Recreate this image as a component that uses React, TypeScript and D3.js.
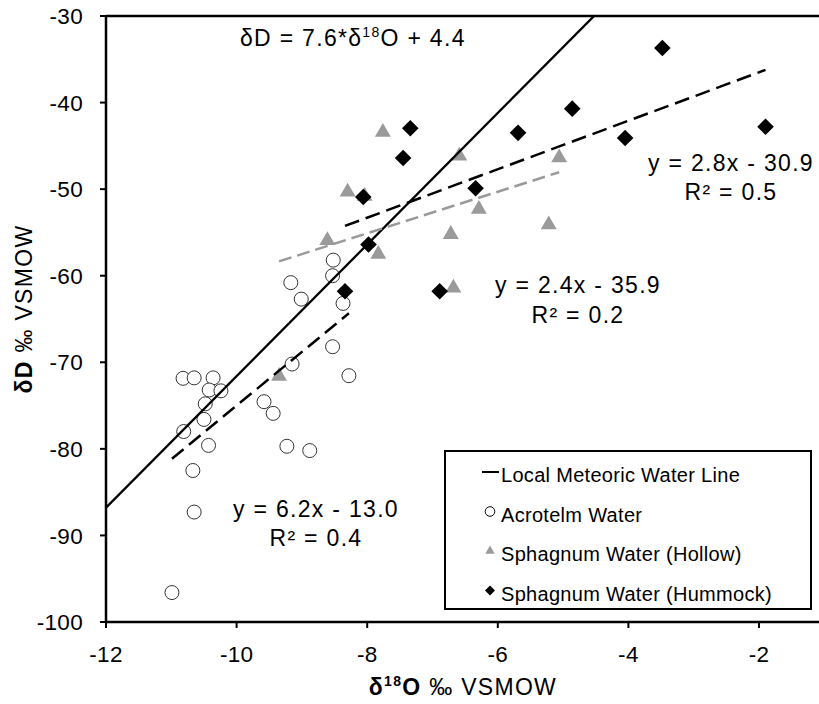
import React from "react";
import * as d3 from "d3";

const acrotelm: [number, number][] = [
  [-10.82, -71.85], [-10.65, -71.8], [-10.36, -71.8], [-10.42, -73.2], [-10.24, -73.3],
  [-10.48, -74.8], [-10.5, -76.6], [-10.81, -78.0], [-10.43, -79.6], [-10.67, -82.5],
  [-10.65, -87.3], [-10.99, -96.6], [-9.58, -74.55], [-9.44, -75.9], [-9.23, -79.7],
  [-8.88, -80.2], [-9.15, -70.2], [-8.53, -68.2], [-8.28, -71.55], [-9.17, -60.8],
  [-9.01, -62.7], [-8.52, -58.2], [-8.53, -60.0], [-8.37, -63.2],
];

const hollow: [number, number][] = [
  [-7.76, -43.3], [-8.3, -50.2], [-8.04, -50.7], [-8.61, -55.8], [-7.83, -57.4],
  [-6.59, -46.05], [-5.06, -46.25], [-6.29, -52.2], [-6.72, -55.1], [-5.22, -54.0],
  [-6.68, -61.3], [-9.35, -71.5],
];

const hummock: [number, number][] = [
  [-7.34, -42.97], [-7.45, -46.4], [-8.06, -50.9], [-7.98, -56.4], [-8.34, -61.8],
  [-3.48, -33.7], [-4.86, -40.7], [-5.69, -43.5], [-4.05, -44.1], [-1.9, -42.8],
  [-6.34, -49.9], [-6.89, -61.8],
];

// trend equations: [slope, intercept]
const lmwl: [number, number] = [7.6, 4.4];
const acroFit: [number, number] = [6.2, -13.0];
const hollowFit: [number, number] = [2.4, -35.9];
const hummockFit: [number, number] = [2.8, -30.9];

const xTicks = [-12, -10, -8, -6, -4, -2];
const yTicks = [-100, -90, -80, -70, -60, -50, -40, -30];

const legendLabels = [
  "Local Meteoric Water Line",
  "Acrotelm Water",
  "Sphagnum Water (Hollow)",
  "Sphagnum Water (Hummock)",
];

const FONT = "'Liberation Sans', Arial, Helvetica, sans-serif";
const GRAY = "#9a9a9a";
const ANN = { fontSize: 23, letterSpacing: 1.3 };

export default function App() {
  const W = 819, H = 704;
  const x = d3.scaleLinear().domain([-12, -1]).range([106, 106 + 11 * 65.3]);
  const y = d3.scaleLinear().domain([-100, -30]).range([622, 16]);
  const line = d3.line<[number, number]>().x((d) => x(d[0])).y((d) => y(d[1]));

  const fitLine = (f: [number, number], x0: number, x1: number) =>
    line([[x0, f[0] * x0 + f[1]], [x1, f[0] * x1 + f[1]]]) || "";
  const ext = (arr: [number, number][]) => d3.extent(arr, (d) => d[0]) as [number, number];

  const [a0, a1] = ext(acrotelm);
  const [h0, h1] = ext(hollow);
  const [m0, m1] = ext(hummock);

  const tri = d3.symbol().type(d3.symbolTriangle);
  const triPath = tri.size(110)() || "";
  const triSmall = tri.size(38)() || "";
  const diamond = (r: number) => `M0,${-r}L${r},0L0,${r}L${-r},0Z`;

  return (
    <svg width={W} height={H} style={{ position: "absolute", left: 0, top: 0, background: "#fff" }}
      fontFamily={FONT}>
      <defs>
        <clipPath id="plot">
          <rect x={106} y={16} width={W - 106} height={606} />
        </clipPath>
      </defs>
      <rect width={W} height={H} fill="#fff" />

      {/* axes */}
      <line x1={106} x2={W} y1={16} y2={16} stroke="#000" strokeWidth={2.5} />
      <line x1={106} x2={106} y1={15} y2={623} stroke="#000" strokeWidth={2.5} />
      <line x1={105} x2={W} y1={622} y2={622} stroke="#000" strokeWidth={2.5} />
      {yTicks.map((t) => (
        <g key={"y" + t}>
          <line x1={100} x2={106} y1={y(t)} y2={y(t)} stroke="#000" strokeWidth={2} />
          <text x={83} y={y(t)} dy="0.36em" textAnchor="end" fontSize={22.5} letterSpacing={0.3}>{t}</text>
        </g>
      ))}
      {xTicks.map((t) => (
        <g key={"x" + t}>
          <line x1={x(t)} x2={x(t)} y1={622} y2={628} stroke="#000" strokeWidth={2} />
          <text x={x(t)} y={662} textAnchor="middle" fontSize={22.5} letterSpacing={0.3}>{t}</text>
        </g>
      ))}

      {/* axis titles */}
      <text x={463} y={695} textAnchor="middle" {...ANN}>
        <tspan fontWeight="bold">δ</tspan>
        <tspan fontWeight="bold" fontSize={14} dy={-9}>18</tspan>
        <tspan fontWeight="bold" dy={9}>O</tspan>
        <tspan> ‰ VSMOW</tspan>
      </text>
      <text transform="translate(32,309) rotate(-90)" textAnchor="middle" {...ANN}>
        <tspan fontWeight="bold">δD</tspan>
        <tspan> ‰ VSMOW</tspan>
      </text>

      {/* points */}
      <g>
        {acrotelm.map((d, i) => (
          <circle key={"a" + i} cx={x(d[0])} cy={y(d[1])} r={7} fill="#fff" stroke="#333" strokeWidth={1} />
        ))}
        {hollow.map((d, i) => (
          <path key={"h" + i} d={triPath} transform={`translate(${x(d[0])},${y(d[1]) + 1})`} fill={GRAY} />
        ))}
        {hummock.map((d, i) => (
          <path key={"m" + i} d={diamond(8.3)} transform={`translate(${x(d[0])},${y(d[1])})`} fill="#000" />
        ))}
      </g>

      {/* lines */}
      <g clipPath="url(#plot)" fill="none">
        <path d={fitLine(lmwl, -12, -1)} stroke="#000" strokeWidth={2.3} />
        <path d={fitLine(acroFit, a0, a1)} stroke="#000" strokeWidth={2.5} strokeDasharray="15,7" />
        <path d={fitLine(hollowFit, h0, h1)} stroke={GRAY} strokeWidth={2.5} strokeDasharray="13,6" />
        <path d={fitLine(hummockFit, m0, m1)} stroke="#000" strokeWidth={2.5} strokeDasharray="15,7" />
      </g>

      {/* annotations */}
      <text x={240} y={46} {...ANN}>
        δD = 7.6*δ<tspan fontSize={14} dy={-9}>18</tspan><tspan dy={9}>O + 4.4</tspan>
      </text>
      <text x={731} y={171} textAnchor="middle" {...ANN}>y = 2.8x - 30.9</text>
      <text x={731} y={200} textAnchor="middle" {...ANN}>R² = 0.5</text>
      <text x={578} y={293} textAnchor="middle" {...ANN}>y = 2.4x - 35.9</text>
      <text x={578} y={323} textAnchor="middle" {...ANN}>R² = 0.2</text>
      <text x={316} y={517} textAnchor="middle" {...ANN}>y = 6.2x - 13.0</text>
      <text x={316} y={546} textAnchor="middle" {...ANN}>R² = 0.4</text>

      {/* legend */}
      <rect x={445} y={451} width={366} height={158} fill="#fff" stroke="#000" strokeWidth={2} />
      {legendLabels.map((l, i) => {
        const cy = 472 + i * 39.5;
        return (
          <g key={l}>
            {i === 0 && <line x1={482} x2={499} y1={cy} y2={cy} stroke="#000" strokeWidth={2} />}
            {i === 1 && <circle cx={490} cy={cy} r={4.8} fill="#fff" stroke="#000" strokeWidth={1} />}
            {i === 2 && <path d={triSmall} transform={`translate(490,${cy})`} fill={GRAY} />}
            {i === 3 && <path d={diamond(5)} transform={`translate(490,${cy})`} fill="#000" />}
            <text x={501} y={cy + 10} fontSize={20} letterSpacing={0.3}>{l}</text>
          </g>
        );
      })}
    </svg>
  );
}
